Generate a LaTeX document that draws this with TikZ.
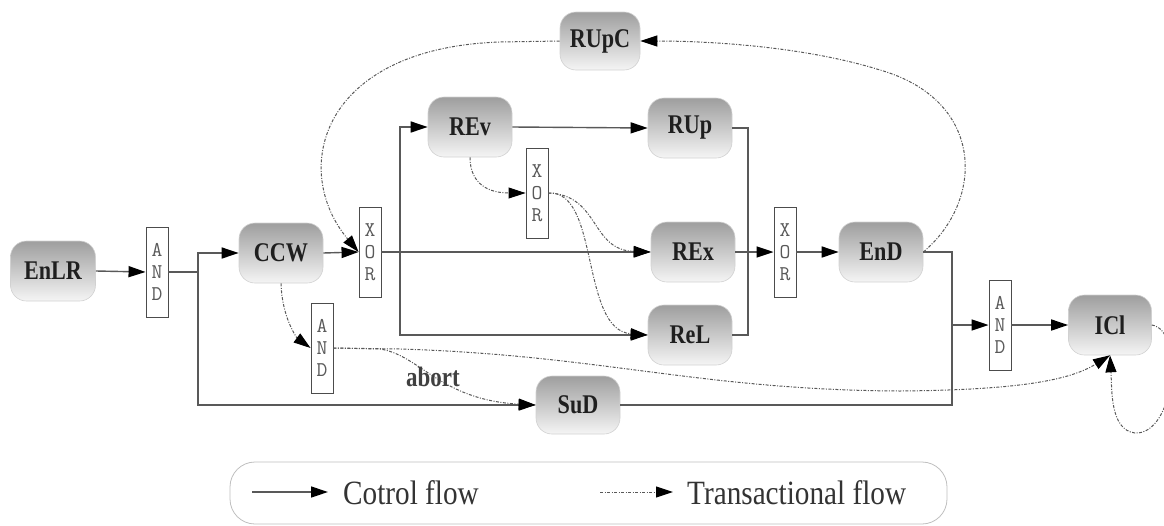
\documentclass[tikz,border=0pt]{standalone}
\usepackage{fontspec}
\usetikzlibrary{arrows.meta}
\newfontfamily\condserif[FakeStretch=0.82]{Liberation Serif}
\newfontfamily\legserif[FakeStretch=0.86]{Liberation Serif}
\tikzset{
  task/.style={rounded corners=16pt, minimum width=84pt, minimum height=60pt,
    top color=black!38, bottom color=black!4, draw=black!18, line width=0.6pt,
    inner sep=0pt, text=black!88,
    font=\condserif\bfseries\fontsize{27}{27}\selectfont},
  gate/.style={draw=black!70, fill=white, line width=0.9pt,
    minimum width=22pt, minimum height=90pt, inner sep=0pt, align=center,
    text=black!65, font=\ttfamily\fontsize{21}{22}\selectfont},
  tip/.style={-{Triangle[length=17pt,width=11pt,color=black]}},
  ln/.style={draw=black!65, line width=1.4pt},
  ctrl/.style={ln, tip},
  trans/.style={draw=black!65, line width=1pt,
    dash pattern=on 3pt off 1.5pt on 1pt off 1.5pt, tip},
  legbox/.style={draw=black!25, line width=0.8pt, rounded corners=25pt,
    minimum width=717pt, minimum height=62pt, inner sep=0pt},
  legtext/.style={anchor=west, inner sep=0pt, text=black!80,
    font=\legserif\fontsize{34}{34}\selectfont},
}
\begin{document}
\begin{tikzpicture}[x=1pt, y=-1pt]
\useasboundingbox (0,0) rectangle (1164,525);

% activities
\node[task, minimum width=85pt] (EnLR) at (53,271) {EnLR};
\node[task] (CCW)  at (281,253) {CCW};
\node[task] (REv)  at (470,127) {REv};
\node[task] (RUp)  at (690,128) {RUp};
\node[task] (REx)  at (693,252) {REx};
\node[task] (ReL)  at (690,335) {ReL};
\node[task] (EnD)  at (881,252) {EnD};
\node[task, minimum width=83pt] (ICl) at (1110,325) {ICl};
\node[task, minimum height=58pt] (SuD) at (578,405) {SuD};
\node[task, minimum width=80pt, minimum height=58pt] (RUpC) at (600,41) {RUpC};

% gateways
\node[gate] (AND1) at (157,272) {A\\N\\D};
\node[gate] (XOR1) at (370,252) {X\\O\\R};
\node[gate] (XOR2) at (537,193) {X\\O\\R};
\node[gate] (XOR3) at (785,252) {X\\O\\R};
\node[gate] (AND2) at (322,348) {A\\N\\D};
\node[gate] (AND3) at (1000,325) {A\\N\\D};

% control flow
\coordinate (sL) at (198,272);
\coordinate (sX) at (400,252);
\coordinate (mR) at (748,128);
\coordinate (eR) at (952,252);
\draw[ctrl] (EnLR.east) -- (AND1.west);
\draw[ln] (AND1.east) -- (sL);
\draw[ctrl] (sL) |- (CCW.west);
\draw[ctrl] (sL) |- (SuD.west);
\draw[ctrl] (CCW.east) -- (XOR1.west);
\draw[ctrl] (XOR1.east) -- (REx.west);
\draw[ctrl] (sX) |- (REv.west);
\draw[ctrl] (sX) |- (ReL.west);
\draw[ctrl] (REv.east) -- (RUp.west);
\draw[ln] (RUp.east) -- (mR) |- (ReL.east);
\draw[ctrl] (REx.east) -- (XOR3.west);
\draw[ctrl] (XOR3.east) -- (EnD.west);
\draw[ln] (EnD.east) -- (eR) |- (SuD.east);
\draw[ctrl] (eR |- AND3.west) -- (AND3.west);
\draw[ctrl] (AND3.east) -- (ICl.west);

% transactional flow
\draw[trans] (CCW.south) .. controls (282,318) and (297,338) .. (AND2.west);
\draw[trans] (RUpC.west) -- (500,42) .. controls (320,48) and (290,170) .. (XOR1.west);
\draw[trans] (EnD.east) .. controls (985,200) and (985,100) .. (880,70)
  .. controls (800,45) and (700,41) .. (RUpC.east);
\draw[trans] (REv.south) .. controls (470,185) and (490,193) .. (XOR2.west);
\draw[trans] (XOR2.east) .. controls (600,195) and (590,250) .. (REx.west);
\draw[trans] (XOR2.east) .. controls (600,190) and (580,330) .. (ReL.west);
\draw[trans] (AND2.east) -- (400,349) .. controls (600,355) and (700,390) .. (900,391)
  .. controls (1020,390) and (1070,380) .. (ICl.south);
\draw[trans] (AND2.east) -- (380,349) .. controls (420,355) and (440,400) .. (SuD.west);
\node[text=black!75, font=\condserif\bfseries\fontsize{28}{28}\selectfont] (abort) at (433,377) {abort};
\draw[trans] (ICl.east) .. controls (1185,330) and (1175,435) .. (1135,433)
  .. controls (1110,430) and (1112,390) .. (ICl.south);

% legend
\node[legbox] (leg) at (588.5,493) {};
\coordinate (ca0) at (252,492);
\coordinate (ca1) at (328,492);
\coordinate (ta0) at (600,492);
\coordinate (ta1) at (673,492);
\draw[ctrl] (ca0) -- (ca1);
\node[legtext] (lc) at (343,493) {Cotrol flow};
\draw[trans] (ta0) -- (ta1);
\node[legtext] (lt) at (687,493) {Transactional flow};
\end{tikzpicture}
\end{document}
